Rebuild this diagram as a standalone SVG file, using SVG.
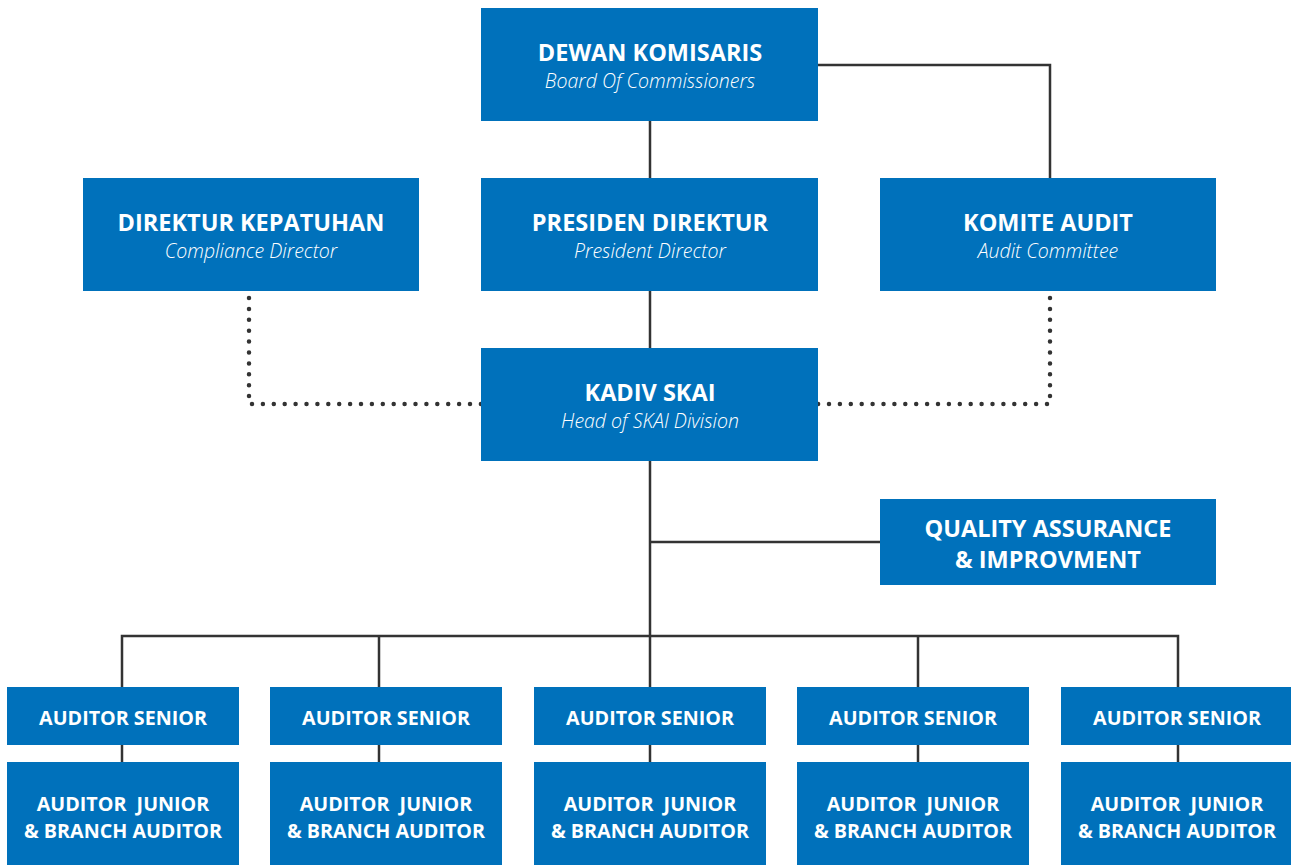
<svg xmlns="http://www.w3.org/2000/svg" width="1291" height="865" viewBox="0 0 1291 865">
<style>
.box{fill:#0071BB}
.t{font-family:"Open Sans","Noto Sans",sans-serif;font-weight:bold;fill:#fff;text-anchor:middle}
.tl{font-size:23.5px}
.ts{font-size:19.7px}
.sub{font-family:"Open Sans","Noto Sans",sans-serif;font-style:italic;font-weight:300;font-size:19.5px;fill:#fff;text-anchor:middle}
.ln{stroke:#333;stroke-width:2.5;fill:none}
.dot{stroke:#333;stroke-width:4.5;fill:none;stroke-linecap:round;stroke-dasharray:0 10.9}
</style>
<rect width="1291" height="865" fill="#fff"/>
<g id="connectors">
<polyline class="ln" points="818,65 1050,65 1050,178"/>
<line class="ln" x1="650" y1="121" x2="650" y2="178"/>
<line class="ln" x1="650" y1="291" x2="650" y2="348"/>
<line class="ln" x1="650" y1="461" x2="650" y2="687"/>
<line class="ln" x1="650" y1="542" x2="880" y2="542"/>
<polyline class="ln" points="122,687 122,636 1178,636 1178,687"/>
<line class="ln" x1="379" y1="636" x2="379" y2="687"/>
<line class="ln" x1="918" y1="636" x2="918" y2="687"/>
<line class="ln" x1="122" y1="745" x2="122" y2="762"/>
<line class="ln" x1="379" y1="745" x2="379" y2="762"/>
<line class="ln" x1="650" y1="745" x2="650" y2="762"/>
<line class="ln" x1="918" y1="745" x2="918" y2="762"/>
<line class="ln" x1="1178" y1="745" x2="1178" y2="762"/>
<polyline class="dot" points="249,298 249,404 481,404"/>
<polyline class="dot" points="1050,298 1050,404 818,404"/>
</g>
<g id="dewan">
<rect class="box" x="481" y="8" width="337" height="113"/>
<text class="t tl" x="650" y="61">DEWAN KOMISARIS</text>
<text class="sub" x="650" y="88">Board Of Commissioners</text>
</g>
<g id="direktur-kepatuhan">
<rect class="box" x="83" y="178" width="336" height="113"/>
<text class="t tl" x="251" y="231">DIREKTUR KEPATUHAN</text>
<text class="sub" x="251" y="258">Compliance Director</text>
</g>
<g id="presiden-direktur">
<rect class="box" x="481" y="178" width="337" height="113"/>
<text class="t tl" x="650" y="231">PRESIDEN DIREKTUR</text>
<text class="sub" x="650" y="258">President Director</text>
</g>
<g id="komite-audit">
<rect class="box" x="880" y="178" width="336" height="113"/>
<text class="t tl" x="1048" y="231">KOMITE AUDIT</text>
<text class="sub" x="1048" y="258">Audit Committee</text>
</g>
<g id="kadiv-skai">
<rect class="box" x="481" y="348" width="337" height="113"/>
<text class="t tl" x="650" y="401">KADIV SKAI</text>
<text class="sub" x="650" y="428">Head of SKAI Division</text>
</g>
<g id="quality-assurance">
<rect class="box" x="880" y="499" width="336" height="86"/>
<text class="t tl" x="1048" y="537">QUALITY ASSURANCE</text>
<text class="t tl" x="1048" y="568">&amp; IMPROVMENT</text>
</g>
<g id="senior-1"><rect class="box" x="7" y="687" width="232" height="58"/><text class="t ts" x="123" y="725">AUDITOR SENIOR</text></g>
<g id="senior-2"><rect class="box" x="270" y="687" width="232" height="58"/><text class="t ts" x="386" y="725">AUDITOR SENIOR</text></g>
<g id="senior-3"><rect class="box" x="534" y="687" width="232" height="58"/><text class="t ts" x="650" y="725">AUDITOR SENIOR</text></g>
<g id="senior-4"><rect class="box" x="797" y="687" width="232" height="58"/><text class="t ts" x="913" y="725">AUDITOR SENIOR</text></g>
<g id="senior-5"><rect class="box" x="1061" y="687" width="231" height="58"/><text class="t ts" x="1177" y="725">AUDITOR SENIOR</text></g>
<g id="junior-1"><rect class="box" x="7" y="762" width="232" height="103"/><text class="t ts" x="123" y="811" xml:space="preserve">AUDITOR  JUNIOR</text><text class="t ts" x="123" y="838">&amp; BRANCH AUDITOR</text></g>
<g id="junior-2"><rect class="box" x="270" y="762" width="232" height="103"/><text class="t ts" x="386" y="811" xml:space="preserve">AUDITOR  JUNIOR</text><text class="t ts" x="386" y="838">&amp; BRANCH AUDITOR</text></g>
<g id="junior-3"><rect class="box" x="534" y="762" width="232" height="103"/><text class="t ts" x="650" y="811" xml:space="preserve">AUDITOR  JUNIOR</text><text class="t ts" x="650" y="838">&amp; BRANCH AUDITOR</text></g>
<g id="junior-4"><rect class="box" x="797" y="762" width="232" height="103"/><text class="t ts" x="913" y="811" xml:space="preserve">AUDITOR  JUNIOR</text><text class="t ts" x="913" y="838">&amp; BRANCH AUDITOR</text></g>
<g id="junior-5"><rect class="box" x="1061" y="762" width="231" height="103"/><text class="t ts" x="1177" y="811" xml:space="preserve">AUDITOR  JUNIOR</text><text class="t ts" x="1177" y="838">&amp; BRANCH AUDITOR</text></g>
</svg>
